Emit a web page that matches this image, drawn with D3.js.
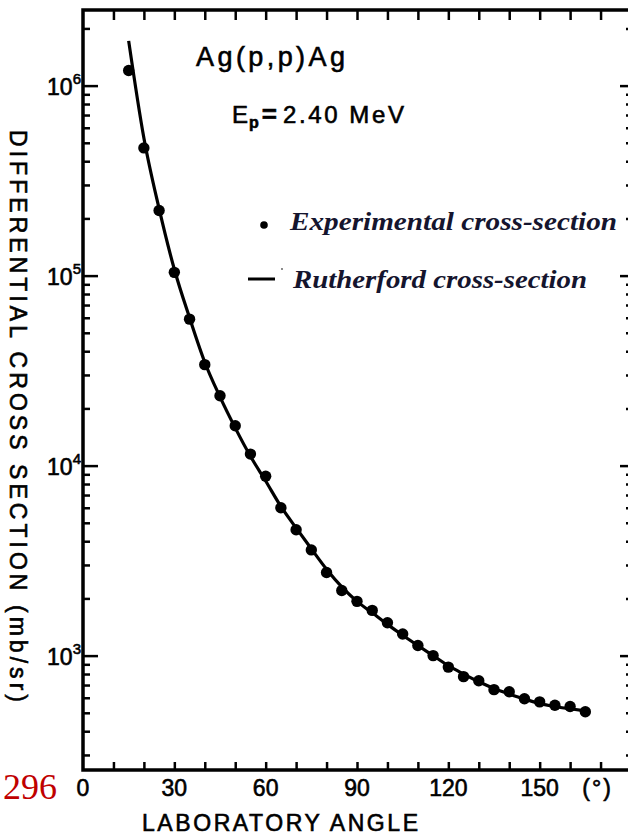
<!DOCTYPE html>
<html>
<head>
<meta charset="utf-8">
<script src="https://cdn.jsdelivr.net/npm/d3@7"></script>
<style>
  html, body { margin: 0; padding: 0; background: #fff; }
  svg { display: block; }
</style>
</head>
<body>
<div id="chart"></div>
<script>
// measured points, lab angle (deg) vs cross section (mb/sr)
const angles = [15, 20, 25, 30, 35, 40, 45, 50, 55, 60, 65, 70, 75, 80, 85, 90, 95, 100,
    105, 110, 115, 120, 125, 130, 135, 140, 145, 150, 155, 160, 165];
const measured = [1.2e6, 4.7e5, 2.2e5, 1.04e5, 5.9e4, 3.4e4, 2.33e4, 1.62e4, 1.15e4, 8.8e3,
    6.0e3, 4.6e3, 3.6e3, 2.74e3, 2.2e3, 1.93e3, 1.73e3, 1.49e3, 1.3e3, 1.13e3, 1.0e3,
    870, 775, 738, 662, 645, 593, 571, 548, 540, 506];

// rutherford curve
const curveAngles = [15, 20, 25, 30, 35, 40, 45, 50, 55, 60, 65, 70, 75, 80, 85, 90, 95, 100,
    105, 110, 115, 120, 125, 130, 135, 140, 145, 150, 155, 160, 165];
const rutherford = [1.72e6, 5.3e5, 2.25e5, 1.08e5, 6.0e4, 3.5e4, 2.3e4, 1.58e4, 1.12e4, 8.3e3,
    6.1e3, 4.7e3, 3.65e3, 2.85e3, 2.3e3, 1.93e3, 1.68e3, 1.46e3, 1.28e3, 1.13e3, 1.0e3,
    885, 800, 728, 672, 628, 590, 560, 540, 525, 512];

const xTickLabels = [0, 30, 60, 90, 120, 150];
const yDecades = [1e3, 1e4, 1e5, 1e6];
const legendLabels = ["Experimental cross-section", "Rutherford cross-section"];

const width = 628, height = 835;
const mLeft = 83, mRight = 631, mTop = 10, mBottom = 770;

const x = d3.scaleLinear([0, 180], [mLeft, mRight]);
const y = d3.scaleLog([250, 2.5e6], [mBottom, mTop]);

const svg = d3.select("#chart").append("svg")
    .attr("width", width)
    .attr("height", height)
    .attr("viewBox", [0, 0, width, height]);

const ink = "#000";
const labelFont = "'Liberation Sans', Arial, sans-serif";

const minor = y.ticks().filter(v => !yDecades.includes(v));
const xt = d3.range(10, 180, 10);

// ticks, all pointing into the frame
const axisG = (axis, tx, ty) => {
    const g = svg.append("g")
        .attr("transform", `translate(${tx},${ty})`)
        .call(axis);
    g.select(".domain").remove();
    g.selectAll("line").attr("stroke", ink).attr("stroke-width", 2.5);
    return g;
}
axisG(d3.axisBottom(x).tickValues(xt).tickSize(-8).tickFormat(""), 0, mBottom);
axisG(d3.axisTop(x).tickValues(xt).tickSize(-10).tickFormat(""), 0, mTop);
axisG(d3.axisLeft(y).tickValues(yDecades).tickSize(-15).tickFormat(""), mLeft, 0);
axisG(d3.axisLeft(y).tickValues(minor).tickSize(-7).tickFormat(""), mLeft, 0);
axisG(d3.axisRight(y).tickValues(yDecades).tickSize(-11).tickFormat(""), mRight, 0);
axisG(d3.axisRight(y).tickValues(minor).tickSize(-5).tickFormat(""), mRight, 0);

// frame
svg.append("rect")
    .attr("x", mLeft).attr("y", mTop)
    .attr("width", mRight - mLeft).attr("height", mBottom - mTop)
    .attr("fill", "none")
    .attr("stroke", ink)
    .attr("stroke-width", 3.5);

// scanned lettering is heavy, thicken a bit with a stroke
const heavy = sel => sel.attr("stroke", ink).attr("stroke-width", 0.6);

// x labels
svg.append("g")
    .selectAll("text")
    .data(xTickLabels)
    .join("text")
    .attr("x", d => x(d))
    .attr("y", 796)
    .attr("text-anchor", "middle")
    .attr("font-family", labelFont)
    .attr("font-size", 23)
    .attr("fill", ink)
    .call(heavy)
    .text(d => d);

svg.append("text")
    .attr("x", x(170) - 3)
    .attr("y", 796)
    .attr("text-anchor", "middle")
    .attr("font-family", labelFont)
    .attr("font-size", 23)
    .attr("letter-spacing", 2)
    .attr("fill", ink)
    .call(heavy)
    .text("(°)");

svg.append("text")
    .attr("x", 142)
    .attr("y", 831)
    .attr("font-family", labelFont)
    .attr("font-size", 23)
    .attr("textLength", 276)
    .attr("lengthAdjust", "spacing")
    .attr("fill", ink)
    .call(heavy)
    .text("LABORATORY ANGLE");

// y labels 10^n
const yl = svg.append("g")
    .selectAll("text")
    .data(yDecades)
    .join("text")
    .attr("x", 81)
    .attr("y", d => y(d) + 9)
    .attr("text-anchor", "end")
    .attr("font-family", labelFont)
    .attr("font-size", 23)
    .attr("fill", ink)
    .call(heavy);
yl.append("tspan").text("10");
yl.append("tspan")
    .attr("font-size", 15)
    .attr("dy", -11)
    .attr("dx", 0)
    .text(d => Math.round(Math.log10(d)));

svg.append("text")
    .attr("transform", "translate(10,130) rotate(90)")
    .attr("font-family", labelFont)
    .attr("font-size", 23)
    .attr("textLength", 572)
    .attr("lengthAdjust", "spacing")
    .attr("fill", ink)
    .call(heavy)
    .text("DIFFERENTIAL  CROSS  SECTION  (mb/sr)");

// rutherford line
const line = d3.line()
    .x((d, i) => x(curveAngles[i]))
    .y(d => y(d))
    .curve(d3.curveMonotoneX);

svg.append("path")
    .datum(rutherford)
    .attr("fill", "none")
    .attr("stroke", ink)
    .attr("stroke-width", 3.2)
    .attr("d", line);

svg.append("g")
    .selectAll("circle")
    .data(measured)
    .join("circle")
    .attr("cx", (d, i) => x(angles[i]))
    .attr("cy", d => y(d))
    .attr("r", 5.7)
    .attr("fill", ink);

// annotations
svg.append("text")
    .attr("x", 196)
    .attr("y", 66)
    .attr("font-family", labelFont)
    .attr("font-size", 27)
    .attr("textLength", 149)
    .attr("lengthAdjust", "spacing")
    .attr("fill", ink)
    .call(heavy)
    .text("Ag(p,p)Ag");

const ep = svg.append("text")
    .attr("x", 232)
    .attr("y", 123)
    .attr("font-family", labelFont)
    .attr("font-size", 24)
    .attr("fill", ink)
    .call(heavy);
ep.append("tspan").text("E");
ep.append("tspan").attr("font-size", 16).attr("font-weight", "bold").attr("dy", 5).attr("dx", 1).text("p");
ep.append("tspan").attr("font-weight", "bold").attr("font-size", 26).attr("dy", -5).attr("dx", 3).text("=");
ep.append("tspan").attr("dx", 6).attr("letter-spacing", 2.6).text("2.40 MeV");

// legend
const legendInk = "#15152e";
const serif = "'Liberation Serif', 'Times New Roman', serif";

svg.append("circle")
    .attr("cx", 264)
    .attr("cy", 225)
    .attr("r", 3.8)
    .attr("fill", ink);

svg.append("line")
    .attr("x1", 248).attr("x2", 275)
    .attr("y1", 279).attr("y2", 279)
    .attr("stroke", ink)
    .attr("stroke-width", 3);

svg.append("circle")
    .attr("cx", 282)
    .attr("cy", 269)
    .attr("r", 0.9)
    .attr("fill", "#555");

svg.append("g")
    .selectAll("text")
    .data(legendLabels)
    .join("text")
    .attr("x", (d, i) => [290, 293][i])
    .attr("y", (d, i) => [230, 288][i])
    .attr("font-family", serif)
    .attr("font-style", "italic")
    .attr("font-weight", "bold")
    .attr("font-size", 26)
    .attr("textLength", (d, i) => [327, 294][i])
    .attr("lengthAdjust", "spacingAndGlyphs")
    .attr("fill", legendInk)
    .text(d => d);

// page number from the scan
svg.append("text")
    .attr("x", 57)
    .attr("y", 799)
    .attr("text-anchor", "end")
    .attr("font-family", serif)
    .attr("font-size", 36)
    .attr("fill", "#c00000")
    .text("296");
</script>
</body>
</html>
